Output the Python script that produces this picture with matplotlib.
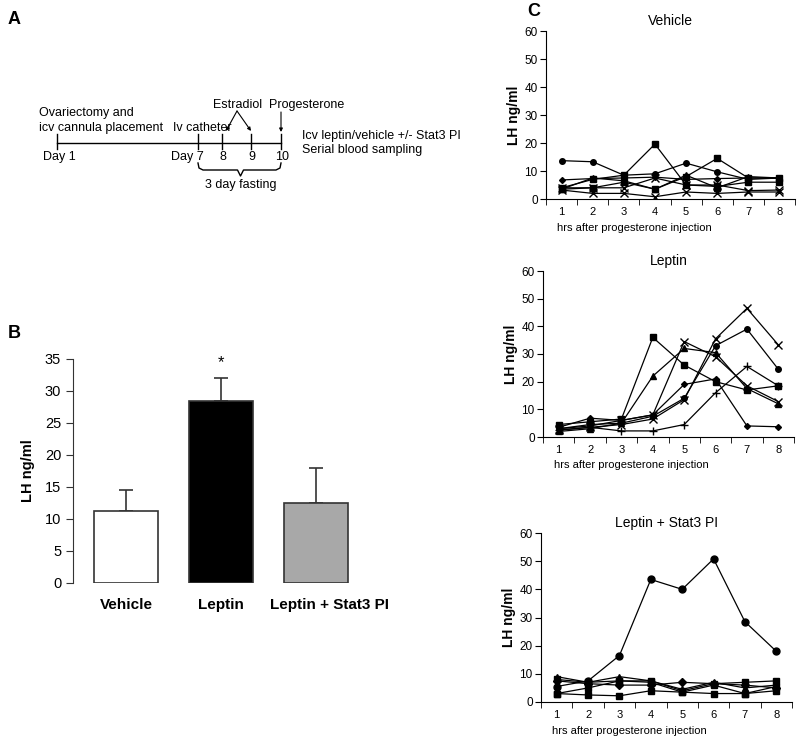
import numpy as np
import matplotlib
matplotlib.use("Agg")
import matplotlib.pyplot as plt
from matplotlib.ticker import FixedLocator

plt.rcParams['font.family'] = ['Liberation Sans', 'DejaVu Sans']

# ---- panel B: mean LH ----
groups = ["Vehicle", "Leptin", "Leptin + Stat3 PI"]
lh_mean = [11.3, 28.5, 12.5]
lh_err = [3.2, 3.5, 5.5]
bar_colors = ["white", "black", "#a8a8a8"]

# ---- panel C: individual LH profiles ----
hours = [1, 2, 3, 4, 5, 6, 7, 8]

vehicle_series = [
    ("o", [13.7, 13.3, 8.5, 9.0, 12.8, 9.7, 7.0, 7.5]),
    ("s", [4.0, 7.0, 8.5, 19.6, 5.0, 4.5, 6.0, 6.0]),
    ("s", [3.5, 4.0, 6.0, 3.5, 8.0, 14.5, 7.5, 7.5]),
    ("D", [6.8, 7.3, 7.5, 7.8, 7.0, 7.3, 7.5, 7.5]),
    ("x", [3.2, 2.0, 2.0, 0.8, 2.5, 2.0, 2.5, 2.5]),
    ("x", [4.0, 4.0, 4.0, 7.5, 5.0, 5.0, 3.0, 3.2]),
    ("^", [3.5, 7.5, 6.5, 3.5, 8.5, 4.0, 8.0, 7.5]),
]

leptin_series = [
    ("x", [2.5, 3.5, 4.5, 6.5, 13.5, 35.5, 46.5, 33.3]),
    ("o", [3.0, 4.5, 5.0, 7.5, 14.0, 33.0, 39.0, 24.5]),
    ("s", [4.5, 5.5, 6.5, 36.0, 26.0, 20.0, 17.0, 18.5]),
    ("^", [2.0, 3.0, 5.0, 22.0, 32.0, 30.5, 17.5, 12.0]),
    ("x", [3.0, 4.0, 6.0, 8.0, 34.5, 29.0, 18.5, 12.8]),
    ("D", [3.5, 6.8, 6.0, 8.0, 19.0, 21.0, 4.0, 3.7]),
    ("+", [2.5, 3.5, 2.2, 2.2, 4.5, 16.0, 25.5, 18.5]),
]

stat3_series = [
    ("o", [5.5, 7.5, 16.5, 43.5, 40.0, 50.8, 28.5, 18.0]),
    ("s", [3.0, 2.5, 2.2, 4.0, 3.5, 3.0, 3.0, 4.0]),
    ("s", [8.0, 7.0, 7.5, 7.5, 4.0, 6.5, 7.0, 7.5]),
    ("^", [9.0, 7.0, 9.0, 7.5, 4.5, 7.0, 5.0, 6.0]),
    ("D", [7.5, 6.5, 6.0, 6.0, 7.0, 6.5, 6.0, 5.0]),
    ("s", [3.0, 5.0, 7.5, 7.0, 3.5, 6.0, 3.0, 5.5]),
]

# ---- panel A: protocol timeline ----
day_labels = ["Day 1", "Day 7", "8", "9", "10"]
day_x = [57, 198, 222, 251, 281]

W, H = 800, 741
fig = plt.figure(figsize=(W / 100, H / 100), dpi=100)


def px_axes(left, top, width, height):
    return fig.add_axes([left / W, 1 - (top + height) / H, width / W, height / H])


# panel A
axA = px_axes(0, 0, 520, 200)
axA.set_xlim(0, 520)
axA.set_ylim(200, 0)
axA.axis("off")
fs = 9
axA.text(8, 20, "A", fontsize=13, fontweight="bold", va="center")
axA.plot([day_x[0], day_x[-1]], [143, 143], color="black", lw=1)
for x, lab in zip(day_x, day_labels):
    axA.plot([x, x], [134, 149], color="black", lw=1)
    if lab.startswith("Day"):
        ha, tx = ("center", x + 2) if lab == "Day 1" else ("right", x + 6)
    else:
        ha, tx = "center", x + 1
    axA.text(tx, 157, lab, fontsize=fs, ha=ha, va="center")
axA.text(39, 113, "Ovariectomy and", fontsize=fs, va="center")
axA.text(39, 128, "icv cannula placement", fontsize=fs, va="center")
axA.text(173, 128, "Iv catheter", fontsize=fs, va="center")
axA.text(213, 105, "Estradiol", fontsize=fs, va="center")
axA.text(269, 105, "Progesterone", fontsize=fs, va="center")
axA.text(302, 136, "Icv leptin/vehicle +/- Stat3 PI", fontsize=fs, va="center")
axA.text(302, 150, "Serial blood sampling", fontsize=fs, va="center")
for tx in (day_x[2] + 4, day_x[3]):
    axA.annotate("", xy=(tx, 131), xytext=(237, 111),
                 arrowprops=dict(arrowstyle="-|>", color="black", lw=0.8,
                                 mutation_scale=5, shrinkA=0, shrinkB=0))
axA.annotate("", xy=(day_x[4], 132), xytext=(day_x[4], 112),
             arrowprops=dict(arrowstyle="-|>", color="black", lw=0.8,
                             mutation_scale=5, shrinkA=0, shrinkB=0))
# brace under days 7-10
mid = (day_x[1] + day_x[4]) / 2 + 1
bx = [day_x[1], day_x[1] + 1, day_x[1] + 5, mid - 3, mid, mid + 3, day_x[4] - 5, day_x[4] - 1, day_x[4]]
by = [163, 168, 170, 170, 176, 170, 170, 168, 163]
axA.plot(bx, by, color="black", lw=1)
axA.text(mid, 185, "3 day fasting", fontsize=fs, ha="center", va="center")

# panel B
axB = px_axes(73, 359, 297, 224)
xpos = np.arange(len(groups))
axB.bar(xpos, lh_mean, width=0.67, color=bar_colors,
        edgecolor="#333333", linewidth=1.2, zorder=2)
axB.errorbar(xpos, lh_mean, yerr=[np.zeros(3), lh_err], fmt="none",
             ecolor="#333333", elinewidth=1.2, capsize=5, capthick=1.2, zorder=1)
axB.text(1, lh_mean[1] + lh_err[1] + 1.2, "*", ha="center", va="bottom", fontsize=12)
axB.set_xlim(-0.558, 2.568)
axB.set_ylim(0, 35)
axB.set_yticks(np.arange(0, 36, 5))
# the last label sits a little right of its bar in the original
axB.set_xticks([0, 1, 2.14])
axB.set_xticklabels(groups, fontsize=11, fontweight="bold")
axB.tick_params(axis="x", length=0, pad=11)
axB.tick_params(axis="y", labelsize=10.5, direction="out", length=5, colors="#333333",
                labelcolor="black")
for s in ("top", "right", "bottom"):
    axB.spines[s].set_visible(False)
axB.spines["left"].set_color("#333333")
axB.set_ylabel("LH ng/ml", fontsize=10.5, fontweight="bold")
axB.yaxis.set_label_coords(-0.128, 0.5)
fig.text(8 / W, 1 - 333 / H, "B", fontsize=13, fontweight="bold", va="center")


# panel C
def draw_profile(ax, title, series, msize):
    for mk, vals in series:
        ms = msize + 1.5 if mk in ("x", "+") else (msize - 1 if mk == "D" else msize)
        ax.plot(hours, vals, color="black", lw=0.9, marker=mk, markersize=ms,
                markerfacecolor="black", markeredgecolor="black", markeredgewidth=1)
    ax.set_xlim(0.5, 8.5)
    ax.set_ylim(0, 60)
    ax.set_yticks(range(0, 61, 10))
    ax.set_xticks(hours)
    ax.xaxis.set_minor_locator(FixedLocator(np.arange(0.5, 8.6, 1)))
    ax.tick_params(axis="x", which="major", length=0, pad=6, labelsize=8)
    ax.tick_params(axis="x", which="minor", length=4, direction="out")
    ax.tick_params(axis="y", labelsize=8.5, length=4, direction="out", pad=2)
    for s in ("top", "right"):
        ax.spines[s].set_visible(False)
    ax.set_title(title, fontsize=10, pad=4)
    ax.text(0.85, -0.17, "hrs after progesterone injection", fontsize=8,
            transform=ax.get_xaxis_transform(), ha="left", va="center")
    ax.set_ylabel("LH ng/ml", fontsize=10, fontweight="bold")
    ax.yaxis.set_label_coords(-0.1, 0.5)


axC1 = px_axes(546, 31, 249, 168)
draw_profile(axC1, "Vehicle", vehicle_series, 4)
axC2 = px_axes(543, 271, 251, 166)
draw_profile(axC2, "Leptin", leptin_series, 4)
axC3 = px_axes(541, 533, 251, 169)
draw_profile(axC3, "Leptin + Stat3 PI", stat3_series, 5)
fig.text(527 / W, 1 - 12 / H, "C", fontsize=13, fontweight="bold", va="center")

fig.savefig("out.png", dpi=100, facecolor="white")
